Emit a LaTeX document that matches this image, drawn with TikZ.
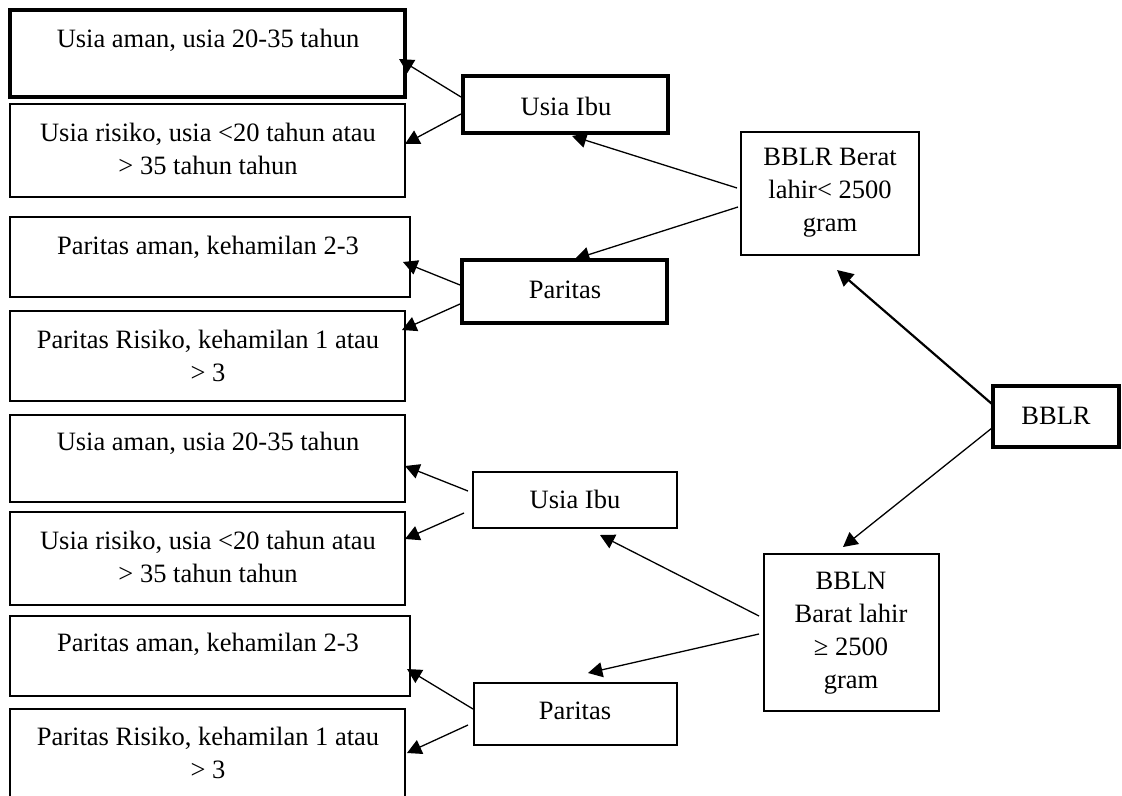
\documentclass[tikz,border=0pt]{standalone}
\usepackage{fontspec}
\setmainfont{Liberation Serif}
\usetikzlibrary{arrows.meta,calc}
\newcommand\pbox[6]{\node[#6, minimum width={(#4-#2)*0.5pt}, minimum height={(#5-#3)*0.5pt}] (#1) at ({(#2+#4)/2},{(#3+#5)/2}) {};}
\tikzset{
  thinbox/.style={draw=black, line width=1.05pt, inner sep=0pt, outer sep=0pt, rectangle},
  thickbox/.style={draw=black, line width=2.2pt, inner sep=0pt, outer sep=0pt, rectangle},
  txt/.style={align=center, inner sep=0pt, font=\fontsize{13.25pt}{16.5pt}\selectfont},
  conn/.style={line width=0.65pt, -{Triangle[length=7.2pt,width=7.5pt]}},
  connthick/.style={line width=1.1pt, -{Triangle[length=8pt,width=8pt]}}
}
\begin{document}
\begin{tikzpicture}[x=0.5pt,y=-0.5pt]
\useasboundingbox (0,0) rectangle (1122,796);
\clip (0,0) rectangle (1122,796);
% left column boxes
\pbox{b1}{10}{10}{405}{97}{thickbox}
\pbox{b2}{10}{104}{405}{197}{thinbox}
\pbox{b3}{10}{217}{410}{297}{thinbox}
\pbox{b4}{10}{311}{405}{401}{thinbox}
\pbox{b5}{10}{415}{405}{502}{thinbox}
\pbox{b6}{10}{512}{405}{605}{thinbox}
\pbox{b7}{10}{616}{410}{696}{thinbox}
\pbox{b8}{10}{709}{405}{812}{thinbox}
\node[txt] (b1t) at (208,40) {Usia aman, usia 20-35 tahun};
\node[txt] (b2t) at (208,149) {Usia risiko, usia <20 tahun atau\\> 35 tahun tahun};
\node[txt] (b3t) at (208,247) {Paritas aman, kehamilan 2-3};
\node[txt] (b4t) at (208,356) {Paritas Risiko, kehamilan 1 atau\\> 3};
\node[txt] (b5t) at (208,443) {Usia aman, usia 20-35 tahun};
\node[txt] (b6t) at (208,557) {Usia risiko, usia <20 tahun atau\\> 35 tahun tahun};
\node[txt] (b7t) at (208,644) {Paritas aman, kehamilan 2-3};
\node[txt] (b8t) at (208,753) {Paritas Risiko, kehamilan 1 atau\\> 3};
% middle boxes
\pbox{u1}{463}{76}{668}{133}{thickbox}
\pbox{p1}{462}{260}{667}{323}{thickbox}
\pbox{u2}{473}{472}{677}{528}{thinbox}
\pbox{p2}{474}{683}{677}{745}{thinbox}
\node[txt] (u1t) at (566,106) {Usia Ibu};
\node[txt] (p1t) at (565,290) {Paritas};
\node[txt] (u2t) at (575,499) {Usia Ibu};
\node[txt] (p2t) at (575,711) {Paritas};
% right boxes
\pbox{r1}{741}{132}{919}{255}{thinbox}
\pbox{r0}{993}{386}{1119}{447}{thickbox}
\pbox{r2}{764}{554}{939}{711}{thinbox}
\node[txt] (r1t) at (830,193) {BBLR Berat\\lahir< 2500\\gram};
\node[txt] (r0t) at (1056,416) {BBLR};
\node[txt] (r2t) at (851,633) {BBLN\\Barat lahir\\≥ 2500\\gram};
% connectors
\draw[connthick] ($(r0.north west)+(-1,18)$) -- ($(r1.south)+(7,15)$);
\draw[conn] ($(r0.north west)+(-1,42)$) -- ($(r2.north)+(-8.5,-7)$);
\draw[conn] ($(r1.north west)+(-4,56)$) -- ($(u1.south)+(6.5,3)$);
\draw[conn] ($(r1.north west)+(-3,75)$) -- ($(p1.north)+(10.5,-1)$);
\draw[conn] ($(u1.north west)+(-2,21)$) -- ($(b1.north east)+(-6,49)$);
\draw[conn] ($(u1.north west)+(-2,38)$) -- ($(b2.north east)+(0,40)$);
\draw[conn] ($(p1.north west)+(-2,25)$) -- ($(b3.north east)+(-7,45)$);
\draw[conn] ($(p1.north west)+(-2,44)$) -- ($(b4.north east)+(-3,19)$);
\draw[conn] ($(r2.north west)+(-5,62)$) -- ($(u2.south)+(25,7)$);
\draw[conn] ($(r2.north west)+(-5,80)$) -- ($(p2.north)+(12.5,-10)$);
\draw[conn] ($(u2.north west)+(-5,19)$) -- ($(b5.north east)+(0,51)$);
\draw[conn] ($(u2.north west)+(-9,41)$) -- ($(b6.north east)+(0,27)$);
\draw[conn] ($(p2.north west)+(-1,26)$) -- ($(b7.north east)+(-3,53)$);
\draw[conn] ($(p2.north west)+(-6,42)$) -- ($(b8.north east)+(2,44)$);
\end{tikzpicture}
\end{document}
